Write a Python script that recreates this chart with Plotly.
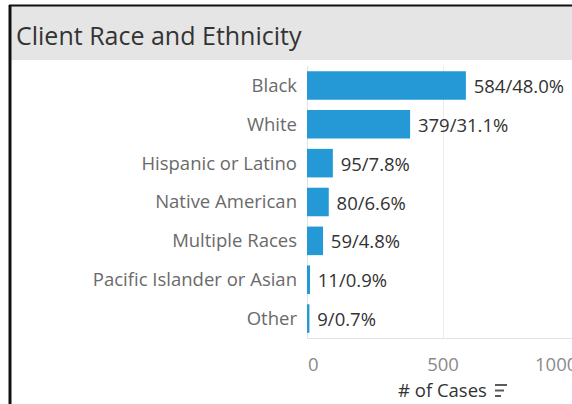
import plotly.graph_objects as go

categories = ["Black", "White", "Hispanic or Latino", "Native American",
              "Multiple Races", "Pacific Islander or Asian", "Other"]
cases = [584, 379, 95, 80, 59, 11, 9]
percents = [48.0, 31.1, 7.8, 6.6, 4.8, 0.9, 0.7]
x_ticks = [0, 500, 1000]
title_text = "Client Race and Ethnicity"
axis_title = "# of Cases"

W, H = 572, 404
L, R, T, B = 307, 0, 66, 66
PW, PH = W - L - R, H - T - B
XMAX = 974  # visible part of the axis; it continues past the right edge


def px(x):
    return (x - L) / PW


def py(y):
    return (H - B - y) / PH


FONT = "Open Sans"
BAR = "#2599d5"
FS = 18.5
TICK_COLOR = "#8a8a8a"

labels = [f" {c}/{p:.1f}%" for c, p in zip(cases, percents)]

fig = go.Figure(go.Bar(
    x=cases, y=categories, orientation="h",
    marker=dict(color=BAR, line=dict(width=0)),
    text=labels, textposition="outside", cliponaxis=False, constraintext="none",
    textfont=dict(family=FONT, size=FS, color="#333333"),
    hoverinfo="skip",
))

shapes = [
    dict(type="rect", xref="paper", yref="paper", x0=px(10), x1=px(575), y0=py(60), y1=py(6),
         fillcolor="#e5e5e5", line=dict(width=0), layer="below"),
    dict(type="line", xref="paper", yref="paper", x0=px(9), x1=px(575), y0=py(5.5), y1=py(5.5),
         line=dict(color="#111111", width=2)),
    dict(type="line", xref="paper", yref="paper", x0=px(10), x1=px(10), y0=py(5), y1=py(410),
         line=dict(color="#111111", width=3)),
]
# sort icon next to axis title
for yy, ln in [(385, 12), (390.5, 9), (396, 6)]:
    shapes.append(dict(type="line", xref="paper", yref="paper", x0=px(495), x1=px(495 + ln),
                       y0=py(yy), y1=py(yy), line=dict(color="#5a5a5a", width=2)))

tick_y = py(363)
annotations = [
    dict(text=title_text, xref="paper", yref="paper", x=px(14), y=py(35), xanchor="left",
         yanchor="middle", showarrow=False, font=dict(family=FONT, size=25, color="#333333")),
    dict(text=axis_title, xref="paper", yref="paper", x=px(442), y=py(389), xanchor="center",
         yanchor="middle", showarrow=False, font=dict(family=FONT, size=FS, color="#333333")),
    # first tick label sits inside the axis start, last one ends at the axis end
    dict(text=str(x_ticks[0]), xref="paper", yref="paper", x=x_ticks[0] / XMAX, y=tick_y,
         xanchor="left", yanchor="middle", showarrow=False, xshift=-1,
         font=dict(family=FONT, size=FS, color=TICK_COLOR)),
    dict(text=str(x_ticks[2]), xref="paper", yref="paper", x=x_ticks[2] / XMAX, y=tick_y,
         xanchor="right", yanchor="middle", showarrow=False,
         font=dict(family=FONT, size=FS, color=TICK_COLOR)),
]

fig.update_layout(
    width=W, height=H,
    margin=dict(l=L, r=R, t=T, b=B, pad=0),
    paper_bgcolor="white", plot_bgcolor="white",
    showlegend=False, bargap=0.265,
    shapes=shapes, annotations=annotations,
    xaxis=dict(range=[0, XMAX], tickvals=[x_ticks[1]], ticktext=[str(x_ticks[1])],
               showgrid=True, gridcolor="#ebebeb", gridwidth=1,
               zeroline=True, zerolinecolor="#e3e3e3", zerolinewidth=1,
               showline=True, linecolor="#e3e3e3", linewidth=1, mirror=False,
               ticks="", ticklabelstandoff=10,
               tickfont=dict(family=FONT, size=FS, color=TICK_COLOR), fixedrange=True),
    yaxis=dict(categoryorder="array", categoryarray=categories[::-1],
               showgrid=False, zeroline=False, showline=False, ticks="",
               ticklabelstandoff=9,
               tickfont=dict(family=FONT, size=FS, color="#6a6a6a"), fixedrange=True),
)

fig.write_html("out.html", config={"displayModeBar": False},
               post_script="document.body.style.margin='0';document.body.style.overflow='hidden';")
